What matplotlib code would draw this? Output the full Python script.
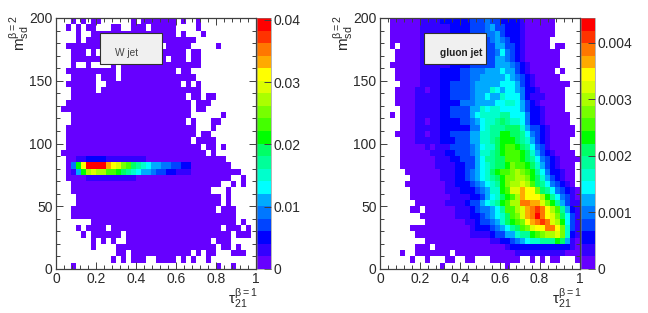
import numpy as np
import matplotlib
matplotlib.use("Agg")
import matplotlib.pyplot as plt
from matplotlib.colors import ListedColormap, BoundaryNorm
from matplotlib.patches import Rectangle
from matplotlib.ticker import MultipleLocator

plt.rcParams['font.family'] = ['Liberation Sans', 'DejaVu Sans']
plt.rcParams['mathtext.fontset'] = 'custom'
plt.rcParams['mathtext.rm'] = 'Liberation Sans'
plt.rcParams['mathtext.it'] = 'Liberation Sans:italic'

# colour-band index of each bin (top row = highest mass); '.' = empty bin
LEVEL_CHARS = "0123456789abcdefghij"
w_jet_rows = [
    "...0.0.00......0.0000000.0..0...........",
    "..0.0.00...00..000.00000....0...........",
    "....0..00000000000000000.0...0..........",
    "....0.0000000000000000000000............",
    "..0000000000000000000.00000.....0.......",
    "...000.0.00000000000000000.00...........",
    "...0000000000000000000.000.00...........",
    "...0..0....0.0000000000000000...........",
    "..0000000000.00000000000.00.............",
    "...00000.000.000000000000000............",
    "..000000..000000000000000.0.0...........",
    "...00000.00000000000000000000...........",
    "...00000000000000000000000.00.00........",
    "..0000000000000000000000000.000.........",
    ".00000000000000000000000000.00..........",
    "...000000000000000000000000......0......",
    "...00000000000000000000000.0...00.......",
    "..00000000000000000000000000...0........",
    "..00000000000000000000000000.00.........",
    "..0000000000000000000000000.0000........",
    "..000000000000000000000000000.00.0......",
    ".00000000000000000000000000000.0........",
    "..0011222211111111" "0000000000000000" "......",
    "..04afjjjjgfecb98765544332200000000.....",
    "..015adeddbba98765543322111" "0000000000" "...",
    "..00001111111111" "0000000000000000000" "..0..",
    "...000000000000000000000000000000..0.0..",
    "...0000000000000000000000000000...0.....",
    "....00000000000000000000000000000.0.....",
    "....00000000000000000000000000000.0.....",
    "...00000000000000000000000000000.000....",
    "...000000000000000000000000000000000....",
    ".......00000000000000000000000000000.0..",
    "....0.0000.0000000000000000000000.000.0.",
    ".....0.000000.000000000000000000000.000.",
    ".......0.0.0..00000000000000000.000.....",
    ".......0....00000000000000000000.00.0...",
    "............00.000000000000.0.00...000..",
    "...........0.0.000..0000.0.0..0.........",
    "...0............................0..0....",
]
gluon_jet_rows = [
    "..000000" "1111" "222222" "333" "4" "33" "2222" "1" "000000" ".....",
    "..000000" "111111" "2222" "333" "4" "5" "33" "222" "1" "000000" ".....",
    "..000000" "111111" "2222" "333" "44" "5" "3" "222" "1" "000000" ".....",
    "..000000" "111111" "2222" "3333" "4543" "22" "1" "00000" "......",
    "..0.0000" "111111" "2222" "3333" "3" "55" "33" "2" "1" "00000" "." "00" "...",
    "...00000" "111111" "2222" "3333" "3" "4" "6" "4" "3" "2" "1" "0000000" "....",
    "...00000" "111111" "2222" "3333" "3" "55" "4" "3" "2" "1" "0000000" "....",
    "..000000" "111111" "2222" "3333" "3" "555" "4" "3" "2" "1" "000000" "....",
    "...00000" "1111" "2222" "33" "44" "4" "5" "55" "6" "55" "3" "2" "1" "00000" "." "0" "...",
    "...00000" "1111" "2222" "33" "44" "55555" "6" "5" "4" "3" "2" "1" "00000" "....",
    "....0000" "1111" "22" "3333" "4" "55" "555" "6" "66" "5" "3" "2" "1" "0000000" "..",
    "...0000" "1" "1" "0" "11" "22" "3333" "4" "555" "7" "6" "5" "66" "5" "4" "22" "1" "00000" "...",
    "...0000" "11" "1" "11" "22" "3333" "4" "55" "6" "55" "7" "66" "6" "4" "2" "11" "1" "0000" "...",
    "...0000" "11" "1" "11" "22" "22" "444" "5555" "6" "6" "77" "6" "5" "3" "2" "1" "0" "0000" "...",
    "....000" "11" "1" "11" "22" "3333" "55" "7" "6" "77" "666" "6" "5" "3" "22" "1" "0000" "...",
    "..0.000" "11" "1" "11" "22" "3333" "5" "6" "7" "777" "88" "6" "66" "4" "2" "2" "1" "00000" "..",
    "....000" "11" "0" "11" "22" "2233" "4" "5" "6" "77" "8" "9" "8" "77" "6" "4" "22" "1" "00000" "..",
    "....000" "11" "1" "11" "22" "2222" "44" "6" "7" "88" "8" "9" "99" "7" "5" "33" "2" "1" "00000" ".",
    "...0000" "11" "0" "11" "22" "3333" "55" "77" "88" "aa" "99" "8" "6" "43" "2" "1" "00000" ".",
    "....000" "11" "1" "11" "22" "2333" "55" "77" "8" "9" "aa" "a9" "8" "7" "5" "3" "2" "1" "0000" "..",
    "....00000" "1" "0" "111" "3333" "4" "5" "6" "77" "9" "a" "bb" "a" "9" "8" "6" "4" "3" "1" "0000" "..",
    "....00000" "0" "111" "22" "333" "4" "5" "7" "7" "89" "a" "b" "bb" "a" "9" "7" "5" "3" "2" "1" "0000" ".",
    "....000000" "0" "111" "22" "333" "5" "6" "88" "99" "bbb" "a" "9" "8" "6" "4" "3" "2" "1" "0000",
    "....000000" "0" "1111" "22" "33" "5" "6" "7" "8" "99" "a" "c" "bb" "a" "9" "7" "5" "3" "2" "1" "000" ".",
    ".....00000" "00" "111" "22" "34" "5" "6" "7" "9" "a" "bb" "c" "d" "c" "b" "a" "8" "6" "4" "22" "1" "00" ".",
    "......0000" "00" "111" "22" "3" "4" "5" "6" "7" "8" "9" "a" "cc" "dd" "c" "a" "9" "7" "5" "3" "2" "1" "00" ".",
    ".....00000" "000" "11" "22" "2" "3" "4" "5" "6" "7" "8" "a" "c" "dd" "e" "d" "b" "9" "8" "6" "4" "3" "2" "1" "0" ".",
    "......0000" "000" "111" "22" "2" "3" "4" "5" "77" "a" "b" "ee" "g" "ff" "c" "9" "8" "6" "4" "3" "2" "1" "0",
    "......0000" "0000" "1111" "2" "2" "3" "5" "67" "9" "a" "b" "d" "g" "f" "ff" "d" "a" "8" "6" "4" "3" "1" "0",
    ".......000" "000" "1111" "2" "3" "3" "5" "6" "7" "8" "a" "b" "dd" "h" "h" "gg" "e" "c" "a" "8" "5" "3" "1" "1",
    "......00.0" "00000" "111" "2" "3" "44" "5" "6" "8" "bb" "d" "e" "g" "h" "i" "h" "f" "d" "b" "8" "5" "2" "1",
    "........00" "00000" "1" "11" "2" "2" "3" "4" "5" "6" "7" "9" "b" "c" "e" "g" "h" "j" "h" "f" "e" "c" "9" "6" "3" "1",
    ".........0" "0000000" "11" "2" "3" "34" "5" "7" "9" "a" "b" "c" "f" "g" "h" "i" "h" "e" "d" "a" "6" "3" "1",
    "......0000" "00000000" "1" "222" "3" "4" "5" "6" "8" "9" "b" "c" "e" "ff" "hh" "f" "c" "7" "3" "1",
    ".......000" "00000000" "1111" "2" "33" "55" "7" "88" "a" "bc" "dd" "e" "c" "7" "2" "1",
    ".........0" "00000000" "0000" "11" "22" "3" "4" "5" "6" "77" "888" "a" "9" "5" "1" "0",
    ".......000" "." "00000000000000" "1" "22222222222" "2" "1" "0",
    "....0..000" "0000" "." "000000000000" "1111111111" "000",
    "......0..0...00..00...000000..0.0.00...0",
    "............0............0..............",
]
for _row in w_jet_rows + gluon_jet_rows:
    assert len(_row) == 40, (_row, len(_row))

w_zmax = 0.0403
gluon_zmax = 0.00444
x_ticks = [0, 0.2, 0.4, 0.6, 0.8, 1]
x_tick_labels = ["0", "0.2", "0.4", "0.6", "0.8", "1"]
y_ticks = [0, 50, 100, 150, 200]
w_bar_ticks = [0, 0.01, 0.02, 0.03, 0.04]
w_bar_labels = ["0", "0.01", "0.02", "0.03", "0.04"]
gluon_bar_ticks = [0, 0.001, 0.002, 0.003, 0.004]
gluon_bar_labels = ["0", "0.001", "0.002", "0.003", "0.004"]

palette = ["#6600ff", "#3300ff", "#0000ff", "#0044ff", "#0077ff", "#00aaff",
           "#00ffff", "#00ffcc", "#00ff99", "#00ff66", "#00ff00", "#44ff00",
           "#77ff00", "#aaff00", "#ddff00", "#ffff00", "#ffaa00", "#ff7700",
           "#ff3300", "#ff0000"]


def to_values(rows, zmax):
    grid = np.full((40, 40), np.nan)
    for r, row in enumerate(rows):
        for c, ch in enumerate(row):
            if ch != ".":
                grid[39 - r, c] = (LEVEL_CHARS.index(ch) + 0.5) * zmax / 20
    return np.ma.masked_invalid(grid)


W, H = 648, 313
fig = plt.figure(figsize=(W / 100, H / 100), dpi=100, facecolor="white")


def box(x0, y0, x1, y1):
    return [x0 / W, 1 - y1 / H, (x1 - x0) / W, (y1 - y0) / H]


FRAME = "#404040"
TXT = "#2a2a2a"
FS = 10


def panel(rows, zmax, ax_px, cb_px, bar_ticks, bar_labels, title, title_xy, bold, box_px):
    ax = fig.add_axes(box(*ax_px))
    cax = fig.add_axes(box(*cb_px))
    x_edges = np.linspace(0, 1, 41)
    y_edges = np.linspace(0, 200, 41)
    cmap = ListedColormap(palette)
    bounds = np.linspace(0, zmax, 21)
    norm = BoundaryNorm(bounds, 20)
    ax.pcolormesh(x_edges, y_edges, to_values(rows, zmax), cmap=cmap, norm=norm, antialiased=False)
    ax.set_xlim(0, 1)
    ax.set_ylim(0, 200)
    ax.set_xticks(x_ticks, x_tick_labels)
    ax.set_yticks(y_ticks, [str(v) for v in y_ticks])
    ax.xaxis.set_minor_locator(MultipleLocator(0.04))
    ax.yaxis.set_minor_locator(MultipleLocator(10))
    ax.tick_params(which="major", direction="in", length=5, width=0.7, top=True, right=True,
                   color=FRAME, labelsize=FS, labelcolor=TXT, pad=2.5)
    ax.tick_params(which="minor", direction="in", length=2.6, width=0.7, top=True, right=True, color=FRAME)
    for s in ax.spines.values():
        s.set_color(FRAME)
        s.set_linewidth(0.9)

    sm = plt.cm.ScalarMappable(norm=norm, cmap=cmap)
    cb = fig.colorbar(sm, cax=cax, spacing="proportional", drawedges=False)
    cb.set_ticks(bar_ticks, labels=bar_labels)
    cb.minorticks_off()
    cax.tick_params(which="major", direction="in", length=5, width=0.7, right=True, left=False,
                    color=FRAME, labelsize=FS, labelcolor=TXT, pad=2)
    cb.outline.set_edgecolor("#808080")
    cb.outline.set_linewidth(0.4)

    x0, y0, x1, y1 = box_px
    fig.add_artist(Rectangle(((x0 + 1) / W, 1 - (y1 + 1) / H), (x1 - x0) / W, (y1 - y0) / H,
                             transform=fig.transFigure, fc="#202020", ec="none", zorder=4.5))
    fig.add_artist(Rectangle((x0 / W, 1 - y1 / H), (x1 - x0) / W, (y1 - y0) / H,
                             transform=fig.transFigure, fc="#f0f0f0", ec="#303030", lw=0.8, zorder=5))
    fig.text(title_xy[0] / W, 1 - title_xy[1] / H, title, fontsize=7.3, color="#444444" if not bold else "#222222",
             ha="center", va="center", fontweight="bold" if bold else "normal", zorder=6)

    fig.text((ax_px[2] - 13) / W, 1 - (ax_px[3] + 29) / H, r"$\mathregular{\tau_{21}^{\beta=1}}$",
             fontsize=11, color=TXT, ha="center", va="center")
    fig.text((ax_px[0] - 36) / W, 1 - 33 / H, r"$\mathregular{m_{sd}^{\beta=2}}$",
             fontsize=11, color=TXT, ha="center", va="center", rotation=90)


panel(w_jet_rows, w_zmax, (56, 18, 256, 269), (256.7, 18, 270.7, 269), w_bar_ticks, w_bar_labels,
      "W jet", (127, 52.5), False, (100, 33.5, 161.5, 63.5))
panel(gluon_jet_rows, gluon_zmax, (380, 18, 579.5, 269), (580.7, 18, 595, 269), gluon_bar_ticks, gluon_bar_labels,
      "gluon jet", (461, 53), True, (424, 33.5, 485.5, 63.5))

fig.savefig("out.png", dpi=100)
